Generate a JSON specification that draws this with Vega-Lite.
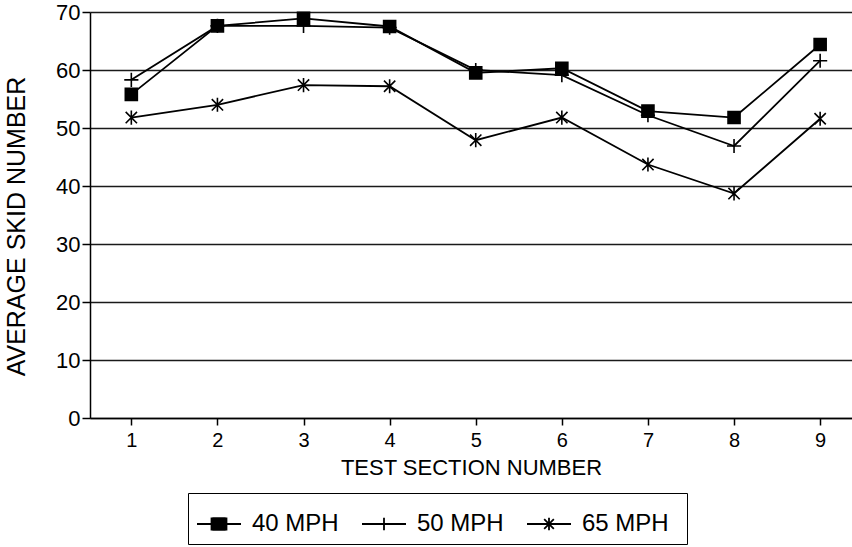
{
  "$schema": "https://vega.github.io/schema/vega-lite/v6.json",
  "width": 762,
  "height": 406,
  "autosize": "none",
  "padding": {"left": 90, "top": 12, "right": 0, "bottom": 129},
  "background": "white",
  "config": {
    "view": {"stroke": null},
    "font": "Liberation Sans",
    "axis": {
      "domainColor": "black",
      "domainWidth": 1.5,
      "tickColor": "black",
      "tickWidth": 1.5,
      "labelColor": "black",
      "titleColor": "black",
      "labelFont": "Liberation Sans",
      "titleFont": "Liberation Sans",
      "titleFontWeight": "normal"
    }
  },
  "data": {
    "values": [
      {"section": 1, "series": "40 MPH", "value": 55.8},
      {"section": 2, "series": "40 MPH", "value": 67.6},
      {"section": 3, "series": "40 MPH", "value": 68.9},
      {"section": 4, "series": "40 MPH", "value": 67.5},
      {"section": 5, "series": "40 MPH", "value": 59.5},
      {"section": 6, "series": "40 MPH", "value": 60.3},
      {"section": 7, "series": "40 MPH", "value": 52.9},
      {"section": 8, "series": "40 MPH", "value": 51.8},
      {"section": 9, "series": "40 MPH", "value": 64.4},
      {"section": 1, "series": "50 MPH", "value": 58.3},
      {"section": 2, "series": "50 MPH", "value": 67.6},
      {"section": 3, "series": "50 MPH", "value": 67.6},
      {"section": 4, "series": "50 MPH", "value": 67.3},
      {"section": 5, "series": "50 MPH", "value": 60.0},
      {"section": 6, "series": "50 MPH", "value": 59.1},
      {"section": 7, "series": "50 MPH", "value": 52.2},
      {"section": 8, "series": "50 MPH", "value": 46.9},
      {"section": 9, "series": "50 MPH", "value": 61.6},
      {"section": 1, "series": "65 MPH", "value": 51.8},
      {"section": 2, "series": "65 MPH", "value": 54.0},
      {"section": 3, "series": "65 MPH", "value": 57.4},
      {"section": 4, "series": "65 MPH", "value": 57.2},
      {"section": 5, "series": "65 MPH", "value": 47.9},
      {"section": 6, "series": "65 MPH", "value": 51.8},
      {"section": 7, "series": "65 MPH", "value": 43.7},
      {"section": 8, "series": "65 MPH", "value": 38.7},
      {"section": 9, "series": "65 MPH", "value": 51.6}
    ]
  },
  "encoding": {
    "x": {
      "field": "section",
      "type": "quantitative",
      "scale": {"domain": [0.52, 9.37], "nice": false, "zero": false},
      "axis": {
        "title": "TEST SECTION NUMBER",
        "values": [1, 2, 3, 4, 5, 6, 7, 8, 9],
        "grid": false,
        "tickSize": 7,
        "labelPadding": 5,
        "labelFontSize": 20,
        "titleFontSize": 22,
        "titleY": 49,
        "titleBaseline": "middle"
      }
    },
    "y": {
      "field": "value",
      "type": "quantitative",
      "scale": {"domain": [0, 70], "nice": false},
      "axis": {
        "title": "AVERAGE SKID NUMBER",
        "values": [0, 10, 20, 30, 40, 50, 60, 70],
        "grid": true,
        "gridColor": "#1a1a1a",
        "gridWidth": 1.4,
        "tickSize": 8,
        "labelPadding": 2,
        "labelFontSize": 22,
        "titleFontSize": 25,
        "titleX": -61,
        "titleY": 214
      }
    }
  },
  "layer": [
    {
      "mark": {"type": "line", "stroke": "black", "strokeWidth": 1.8},
      "encoding": {"detail": {"field": "series", "type": "nominal"}}
    },
    {
      "mark": {"type": "point", "filled": true, "fill": "black", "stroke": "black", "strokeWidth": 1.6, "opacity": 1},
      "encoding": {
        "shape": {
          "field": "series",
          "type": "nominal",
          "scale": {
            "domain": ["40 MPH", "50 MPH", "65 MPH"],
            "range": [
              "M-0.85,-0.85H0.85V0.85H-0.85Z",
              "M-1,0H1M0,-1V1",
              "M0,-1V1M-0.8,-0.8L0.8,0.8M-0.8,0.8L0.8,-0.8"
            ]
          },
          "legend": null
        },
        "size": {"value": 200}
      }
    },
    {
      "mark": {"type": "point", "filled": false, "stroke": "black", "strokeWidth": 1.8, "opacity": 0},
      "encoding": {
        "shape": {
          "field": "series",
          "type": "nominal",
          "scale": {
            "domain": ["40 MPH", "50 MPH", "65 MPH"],
            "range": [
              "M-1,0H1M-0.3,-0.27H0.3M-0.3,-0.21H0.3M-0.3,-0.15H0.3M-0.3,-0.09H0.3M-0.3,-0.03H0.3M-0.3,0.03H0.3M-0.3,0.09H0.3M-0.3,0.15H0.3M-0.3,0.21H0.3M-0.3,0.27H0.3M-0.34,-0.3V0.3M0.34,-0.3V0.3",
              "M-1,0H1M0,-0.28V0.28",
              "M-1,0H1M0,-0.28V0.28M-0.22,-0.22L0.22,0.22M-0.22,0.22L0.22,-0.22"
            ]
          },
          "legend": {
            "title": " ",
            "titleOrient": "right",
            "titleFontSize": 10,
            "titlePadding": 10,
            "orient": "none",
            "legendX": 98,
            "legendY": 481,
            "direction": "horizontal",
            "columns": 3,
            "padding": 8,
            "strokeColor": "black",
            "labelFont": "Liberation Sans",
            "labelFontSize": 24,
            "labelColor": "black",
            "labelOffset": 10,
            "labelLimit": 300,
            "columnPadding": 19,
            "symbolSize": 1936,
            "symbolStrokeWidth": 1.8,
            "symbolOpacity": 1,
            "symbolStrokeColor": "black",
            "encode": {
              "legend": {"update": {"strokeWidth": {"value": 1.8}}}
            }
          }
        }
      }
    }
  ],
  "resolve": {"scale": {"shape": "independent"}, "legend": {"shape": "independent"}}
}
